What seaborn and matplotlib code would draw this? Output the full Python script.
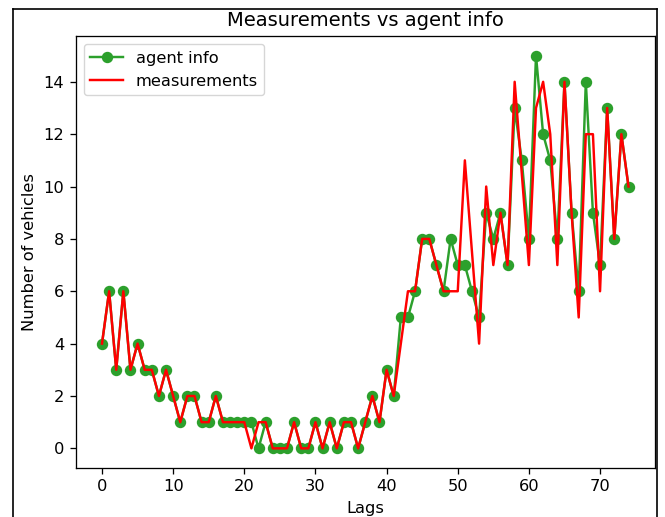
import matplotlib
matplotlib.use("Agg")
import matplotlib.pyplot as plt
import seaborn as sns
import numpy as np
import pandas as pd
from matplotlib.lines import Line2D

lags = list(range(75))
agent_info = [4, 6, 3, 6, 3, 4, 3, 3, 2, 3,
              2, 1, 2, 2, 1, 1, 2, 1, 1, 1,
              1, 1, 0, 1, 0, 0, 0, 1, 0, 0,
              1, 0, 1, 0, 1, 1, 0, 1, 2, 1,
              3, 2, 5, 5, 6, 8, 8, 7, 6, 8,
              7, 7, 6, 5, 9, 8, 9, 7, 13, 11,
              8, 15, 12, 11, 8, 14, 9, 6, 14, 9,
              7, 13, 8, 12, 10]
measurements = [4, 6, 3, 6, 3, 4, 3, 3, 2, 3,
                2, 1, 2, 2, 1, 1, 2, 1, 1, 1,
                1, 0, 1, 1, 0, 0, 0, 1, 0, 0,
                1, 0, 1, 0, 1, 1, 0, 1, 2, 1,
                3, 2, 4, 6, 6, 8, 8, 7, 6, 6,
                6, 11, 7.5, 4, 10, 7, 9, 7, 14, 10.5,
                7, 13, 14, 12, 7, 14, 9, 5, 12, 12,
                6, 13, 8, 12, 10]

df = pd.DataFrame({"Lags": lags, "agent": agent_info, "meas": measurements})

S = 1.17  # scale of the reference rendering
fig = plt.figure(figsize=(6.65, 5.17), dpi=100)
ax = fig.add_axes([0.1138, 0.0948, 0.8709, 0.8356])

sns.lineplot(data=df, x="Lags", y="agent", ax=ax, color="#2ca02c", marker="o",
             markersize=6 * S, markeredgecolor="#2ca02c", markeredgewidth=1 * S,
             linewidth=1.5 * S, label="agent info")
sns.lineplot(data=df, x="Lags", y="meas", ax=ax, color="red",
             linewidth=1.5 * S, label="measurements")

ax.set_title("Measurements vs agent info", fontsize=12 * S, pad=6 * S)
ax.set_xlabel("Lags", fontsize=10 * S, labelpad=4 * S)
ax.set_ylabel("Number of vehicles", fontsize=10 * S, labelpad=4 * S)
ax.set_xticks([0, 10, 20, 30, 40, 50, 60, 70])
ax.set_yticks([0, 2, 4, 6, 8, 10, 12, 14])
ax.tick_params(labelsize=10 * S, length=3.5 * S, width=0.8 * S, pad=3.5 * S)
for sp in ax.spines.values():
    sp.set_linewidth(0.8 * S)
ax.legend(loc="upper left", fontsize=10 * S)

# screenshot frame
W, H = 665.0, 517.0
for (x0, y0, x1, y1) in [(13, 9, 13, 520), (13, 9, 657, 9), (657, 9, 657, 520)]:
    fig.add_artist(Line2D([x0 / W, x1 / W], [1 - y0 / H, 1 - y1 / H],
                          transform=fig.transFigure, color="black", linewidth=1.2))

fig.savefig("out.png", dpi=100)
